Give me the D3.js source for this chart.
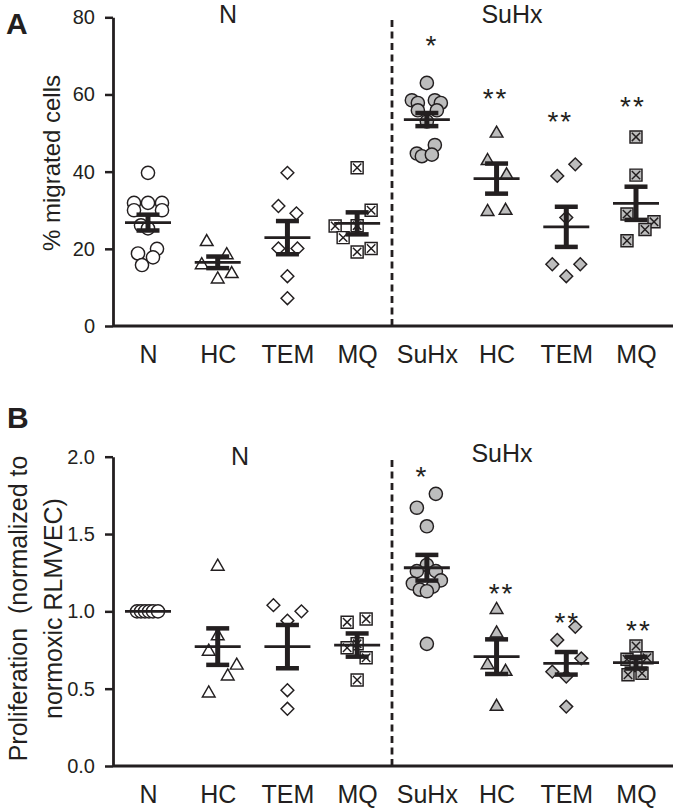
<!DOCTYPE html>
<html><head><meta charset="utf-8">
<script src="https://cdn.jsdelivr.net/npm/d3@7"></script>
<style>body{margin:0;background:#fff} svg{display:block}</style>
</head><body><svg id="chart" width="673" height="811"></svg>
<script>
// ---------- categories ----------
const categories = ["N", "HC", "TEM", "MQ", "SuHx", "HC", "TEM", "MQ"];
const keys = ["N", "HC", "TEM", "MQ", "SuHx", "SuHx-HC", "SuHx-TEM", "SuHx-MQ"];
const shapes = ["circle", "triangle", "diamond", "xsquare", "circle", "triangle", "diamond", "xsquare"];
const filled = [false, false, false, false, true, true, true, true];
const groupLabels = ["N", "SuHx"];

// ---------- Panel A: % migrated cells ----------
const migration = [
  [39.7, 31.9, 31.9, 31.9, 30, 30, 26.1, 25.3, 20.0, 18.8, 17.8, 15.8],
  [21.8, 18.4, 15.8, 13.5, 12.1],
  [39.7, 31.1, 29.2, 20.1, 20.1, 12.9, 7.2],
  [41, 30, 26, 25.9, 22.9, 20.1, 19.2],
  [63, 58.5, 58.5, 57.8, 57.8, 55.9, 55.9, 53, 46.9, 44.7, 44, 44.4],
  [49.9, 42.8, 39.1, 29.9, 29.6],
  [41.9, 38.9, 28.1, 16, 16, 12.9],
  [49, 39.1, 29, 27, 25, 22.1]
];
const migrationMean = [26.8, 16.5, 22.9, 26.6, 53.5, 38.2, 25.7, 31.8];
const migrationSEM  = [2.05, 1.5, 4.3, 2.85, 1.7, 3.9, 5.2, 4.3];
const migrationStars = ["", "", "", "", "*", "**", "**", "**"];
const migrationStarY = [0, 0, 0, 0, 74.5, 60.7, 54.8, 58.5];
const migrationTicks = [0, 20, 40, 60, 80];

// ---------- Panel B: proliferation ----------
const prolif = [
  [1, 1, 1, 1, 1, 1],
  [1.29, 0.84, 0.74, 0.65, 0.58, 0.47],
  [1.04, 1.0, 0.94, 0.49, 0.37],
  [0.95, 0.93, 0.79, 0.765, 0.70, 0.556],
  [1.76, 1.67, 1.55, 1.3, 1.26, 1.26, 1.2, 1.18, 1.16, 1.14, 1.13, 0.79],
  [1.01, 0.858, 0.653, 0.61, 0.384],
  [0.9, 0.815, 0.696, 0.61, 0.578, 0.384],
  [0.776, 0.70, 0.69, 0.65, 0.60, 0.59]
];
const prolifMean = [1.0, 0.772, 0.772, 0.782, 1.282, 0.707, 0.664, 0.668];
const prolifSEM  = [0, 0.118, 0.14, 0.075, 0.083, 0.112, 0.073, 0.038];
const prolifStars = ["", "", "", "", "*", "**", "**", "**"];
const prolifStarY = [0, 0, 0, 0, 1.917, 1.16, 0.97, 0.916];
const prolifTicks = [0, 0.5, 1.0, 1.5, 2.0];

// ---------- layout (horizontal scatter offsets in px, not data) ----------
const migrationJitter = [
  [0, -14, 0, 14, -14, 14, -7, 0, 9, -10, 5, -6],
  [-11, 9, -16, 14, 0],
  [0, -9, 9, -9, 10, 0, 0],
  [0, 14, 0, -22, -14, 14, 0],
  [0, -15, 8, -9, 14, -9, 10, 0, 8, -10, -5, 5],
  [0, -9, 10, 9, -9],
  [9, -9, 0, -14, 14, 0],
  [0, 0, -9, 18, 9, -9]
];
const prolifJitter = [
  [-11, -7, -3, 1, 5, 10],
  [0, 0, -9, 19, 10, -9],
  [-14, 14, 0, 0, 0],
  [9, -10, 0, -10, 9, 0],
  [9, -10, 0, 0, -10, 9, 14, -14, 6, -7, 0, 0],
  [0, 0, -9, 9, 0],
  [9, -9, 15, -14, 0, 0],
  [0, 11, -9, 0, 6, -8]
];
const migrationStarDx = [0, 0, 0, 0, 5, -1, -6, -3];
const prolifStarDx = [0, 0, 0, 0, -5, 5, 1, 3];

// ---------- drawing ----------
const W = 673;
const INK = "#231f20";
const GRAY = "#bdbdbd";
const FONT = "'Liberation Sans', Arial, Helvetica, sans-serif";
const svg = d3.select("#chart");

const x = d3.scalePoint().domain(keys).range([148, 636]);

function markerPath(shape) {
  if (shape === "circle") return d3.symbol(d3.symbolCircle, Math.PI * 6.6 * 6.6)();
  if (shape === "triangle") return d3.symbol(d3.symbolTriangle, 70)();
  if (shape === "diamond") {
    const h = 6.4;
    return `M0,${-h}L${h},0L0,${h}L${-h},0Z`;
  }
  const s = 6;
  const i = 4.2;
  return `M${-s},${-s}H${s}V${s}H${-s}Z M${-i},${-i}L${i},${i} M${i},${-i}L${-i},${i}`;
}

function drawPanel(cfg) {
  const g = svg.append("g");
  const y = d3.scaleLinear().domain(cfg.domain).range([cfg.bottom, cfg.top]);
  const axisX = 113;

  // dashed divider between normoxic and SuHx groups
  const divX = (x("MQ") + x("SuHx")) / 2;
  g.append("line")
    .attr("x1", divX).attr("x2", divX)
    .attr("y1", y(cfg.domain[0])).attr("y2", y(cfg.domain[1]))
    .attr("stroke", INK).attr("stroke-width", 2.8)
    .attr("stroke-dasharray", "7,4.5");

  // points
  cfg.values.forEach((vals, gi) => {
    const k = keys[gi];
    const path = markerPath(shapes[gi]);
    g.append("g").selectAll("path").data(vals).join("path")
      .attr("d", path)
      .attr("transform", (d, i) => `translate(${x(k) + cfg.jitter[gi][i]},${y(d)})`)
      .attr("fill", filled[gi] ? GRAY : "#fff")
      .attr("stroke", INK).attr("stroke-width", 1.45);
  });

  // mean +/- SEM
  keys.forEach((k, gi) => {
    const cx = x(k), m = cfg.mean[gi], s = cfg.sem[gi];
    const eg = g.append("g");
    if (s > 0) {
      eg.append("line").attr("x1", cx).attr("x2", cx)
        .attr("y1", y(m - s)).attr("y2", y(m + s))
        .attr("stroke", INK).attr("stroke-width", 5);
      [m - s, m + s].forEach(v => {
        eg.append("line").attr("x1", cx - 11.5).attr("x2", cx + 11.5)
          .attr("y1", y(v)).attr("y2", y(v))
          .attr("stroke", INK).attr("stroke-width", 4.5);
      });
    }
    eg.append("line").attr("x1", cx - 23).attr("x2", cx + 23)
      .attr("y1", y(m)).attr("y2", y(m))
      .attr("stroke", INK).attr("stroke-width", 2.8);
  });

  // significance stars
  keys.forEach((k, gi) => {
    if (!cfg.stars[gi]) return;
    g.append("text")
      .attr("x", x(k) + cfg.starDx[gi])
      .attr("y", y(cfg.starY[gi]) + 16)
      .attr("text-anchor", "middle")
      .attr("font-family", FONT).attr("font-size", 28)
      .attr("letter-spacing", 2)
      .attr("fill", INK)
      .text(cfg.stars[gi]);
  });

  // y axis
  const ya = g.append("g").attr("transform", `translate(${axisX},0)`)
    .call(d3.axisLeft(y).tickValues(cfg.ticks).tickFormat(cfg.fmt)
      .tickSize(8).tickSizeOuter(0).tickPadding(10));
  ya.select(".domain").attr("stroke", INK).attr("stroke-width", 2.8);
  ya.selectAll(".tick line").attr("stroke", INK).attr("stroke-width", 2.5);
  ya.selectAll(".tick text").attr("font-family", FONT).attr("font-size", 20)
    .attr("fill", INK);

  // x axis
  g.append("line").attr("x1", axisX).attr("x2", W)
    .attr("y1", cfg.bottom).attr("y2", cfg.bottom)
    .attr("stroke", INK).attr("stroke-width", 2.8);
  const xa = g.append("g").attr("transform", `translate(0,${cfg.bottom})`)
    .call(d3.axisBottom(x).tickSize(0).tickPadding(19)
      .tickFormat((d, i) => categories[i]));
  xa.select(".domain").remove();
  xa.selectAll(".tick text").attr("font-family", FONT).attr("font-size", 25)
    .attr("fill", INK);

  // group labels
  cfg.groupPos.forEach((p, i) => {
    g.append("text").attr("x", p[0]).attr("y", p[1])
      .attr("text-anchor", "middle")
      .attr("font-family", FONT).attr("font-size", 25).attr("fill", INK)
      .text(groupLabels[i]);
  });

  // panel letter
  g.append("text").attr("x", cfg.letterPos[0]).attr("y", cfg.letterPos[1])
    .attr("font-family", FONT).attr("font-size", 30).attr("font-weight", "bold")
    .attr("fill", INK).text(cfg.letter);

  // y label
  cfg.ylabel.forEach((line, i) => {
    g.append("text")
      .attr("transform", `translate(${cfg.ylabelX[i]},${cfg.ylabelY}) rotate(-90)`)
      .attr("text-anchor", "middle")
      .attr("font-family", FONT).attr("font-size", cfg.ylabelSize).attr("fill", INK)
      .attr("xml:space", "preserve")
      .style("white-space", "pre")
      .text(line);
  });
}

drawPanel({
  domain: [0, 80], bottom: 326, top: 17.3,
  values: migration, jitter: migrationJitter,
  mean: migrationMean, sem: migrationSEM,
  stars: migrationStars, starY: migrationStarY, starDx: migrationStarDx,
  ticks: migrationTicks, fmt: d3.format("d"),
  groupPos: [[228, 23], [512, 22.5]],
  letter: "A", letterPos: [6, 34],
  ylabel: ["% migrated cells"], ylabelX: [60], ylabelY: 163, ylabelSize: 24
});

drawPanel({
  domain: [0, 2], bottom: 766, top: 456.7,
  values: prolif, jitter: prolifJitter,
  mean: prolifMean, sem: prolifSEM,
  stars: prolifStars, starY: prolifStarY, starDx: prolifStarDx,
  ticks: prolifTicks, fmt: d3.format(".1f"),
  groupPos: [[240, 465], [502, 461.5]],
  letter: "B", letterPos: [7, 428],
  ylabel: ["Proliferation  (normalized to", "normoxic RLMVEC)"],
  ylabelX: [27, 62], ylabelY: 608.5, ylabelSize: 25
});
</script>
</body></html>
